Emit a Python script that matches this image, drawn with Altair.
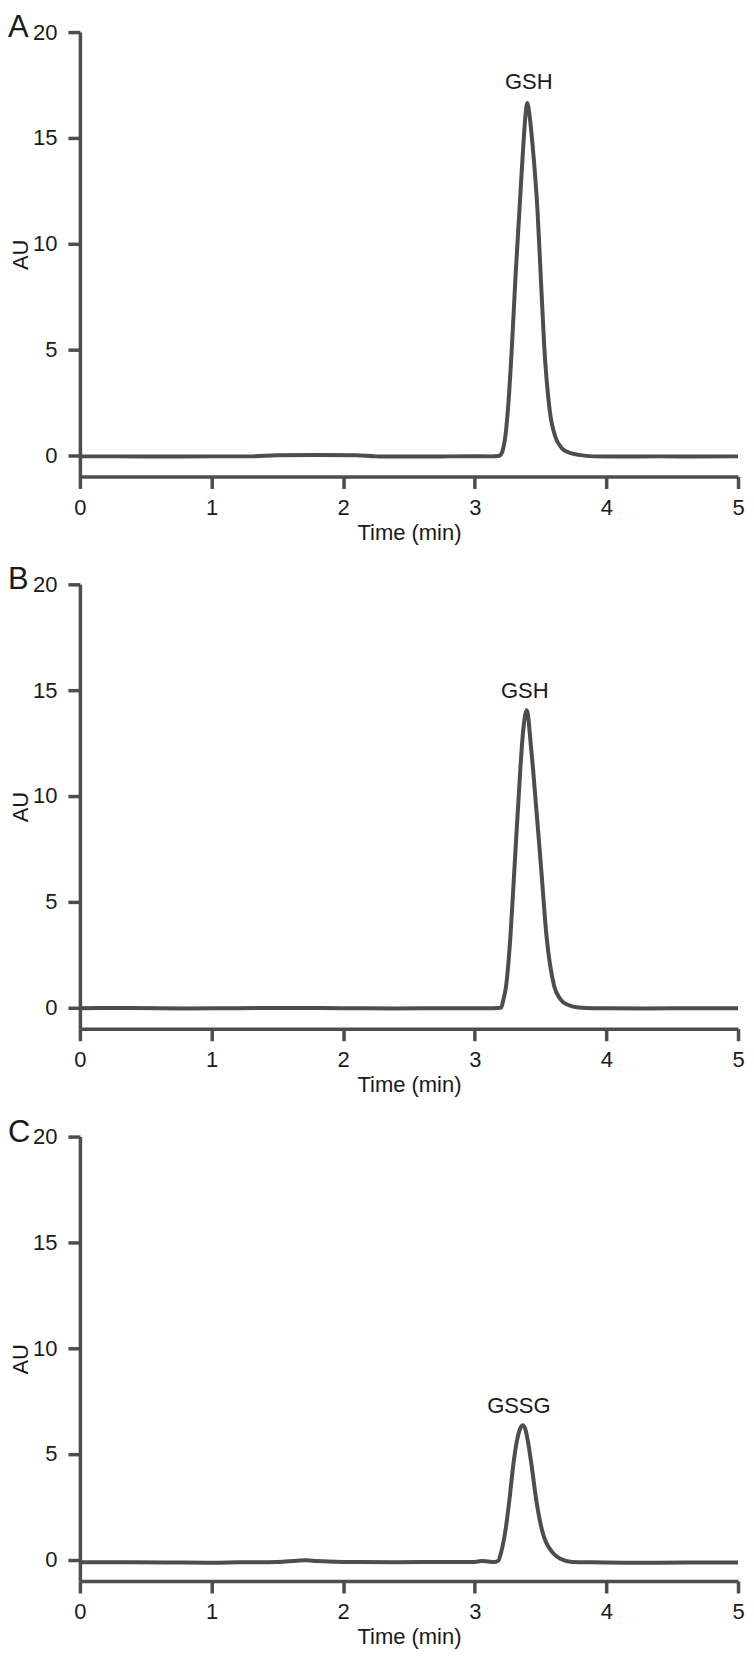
import altair as alt
import pandas as pd

# ---------------- data ----------------
# Panel A (GSH standard)
time_a = [0.0, 0.3, 0.6, 1.0, 1.3, 1.5, 1.8, 2.1, 2.25, 2.5, 2.8, 3.0, 3.12, 3.18,
          3.20, 3.215, 3.231, 3.251, 3.283, 3.309, 3.339, 3.369, 3.39, 3.40, 3.41,
          3.439, 3.477, 3.502, 3.527, 3.570, 3.615, 3.66, 3.72, 3.79, 3.9, 4.1, 4.4, 4.7, 5.0]
au_a = [-0.05, -0.05, -0.06, -0.05, -0.05, 0.0, 0.01, 0.0, -0.05, -0.06, -0.05, -0.04, -0.05, -0.03,
        0.05, 0.3, 0.83, 2.09, 5.23, 8.38, 11.53, 14.67, 16.35, 16.65, 16.35,
        14.67, 11.53, 8.38, 5.23, 2.09, 0.83, 0.35, 0.12, 0.02, -0.05, -0.06, -0.05, -0.06, -0.05]

# Panel B (GSH sample)
time_b = [0.0, 0.4, 0.8, 1.2, 1.6, 2.0, 2.4, 2.8, 3.1, 3.18,
          3.20, 3.215, 3.238, 3.271, 3.301, 3.346, 3.364, 3.384, 3.394, 3.404,
          3.42, 3.443, 3.505, 3.545, 3.603, 3.65, 3.71, 3.79, 3.9, 4.3, 4.7, 5.0]
au_b = [-0.03, -0.02, -0.04, -0.03, -0.02, -0.03, -0.04, -0.03, -0.03, -0.02,
        0.0, 0.3, 1.02, 3.38, 6.52, 11.25, 12.82, 13.85, 14.05, 13.85,
        12.82, 11.25, 6.52, 3.38, 1.02, 0.4, 0.12, 0.0, -0.03, -0.04, -0.03, -0.03]

# Panel C (GSSG)
time_c = [0.0, 0.4, 0.8, 1.0, 1.2, 1.5, 1.65, 1.72, 1.8, 2.0, 2.4, 2.8, 3.0, 3.05, 3.1, 3.15,
          3.178, 3.20, 3.231, 3.264, 3.292, 3.318, 3.345, 3.364, 3.383, 3.405, 3.432,
          3.466, 3.515, 3.59, 3.65, 3.74, 3.9, 4.2, 4.6, 5.0]
au_c = [-0.12, -0.12, -0.13, -0.14, -0.12, -0.10, -0.04, -0.02, -0.06, -0.10, -0.11, -0.10, -0.10, -0.06, -0.08, -0.10,
        -0.05, 0.35, 1.30, 2.87, 4.45, 5.55, 6.2, 6.36, 6.2, 5.55, 4.45,
        2.87, 1.30, 0.35, 0.05, -0.10, -0.12, -0.14, -0.13, -0.13]

panel_letters = ["A", "B", "C"]
peak_names = ["GSH", "GSH", "GSSG"]
label_times = [3.41, 3.38, 3.335]
label_au = [17.3, 14.63, 6.96]

x_ticks = [0, 1, 2, 3, 4, 5]
y_ticks = [0, 5, 10, 15, 20]

# ---------------- styling ----------------
FONT = "Liberation Sans"
LINE = "#4d4d4d"
TEXT = "#1a1a1a"


def panel(times, values, letter, name, lt, la):
    df = pd.DataFrame({"t": times, "au": values})
    x = alt.X("t:Q", scale=alt.Scale(domain=[0, 5], nice=False),
              axis=alt.Axis(values=x_ticks, format="d", title="Time (min)"))
    y = alt.Y("au:Q", scale=alt.Scale(domain=[-1, 20], nice=False),
              axis=alt.Axis(values=y_ticks, format="d", title="AU"))
    line = alt.Chart(df).mark_line(color=LINE, strokeWidth=4,
                                   interpolate="monotone").encode(x=x, y=y)
    lab = alt.Chart(pd.DataFrame({"t": [lt], "au": [la], "name": [name]})).mark_text(
        fontSize=22, font=FONT, color=TEXT, align="center", baseline="alphabetic"
    ).encode(x="t:Q", y="au:Q", text="name:N")
    let = alt.Chart(pd.DataFrame({"letter": [letter]})).mark_text(
        fontSize=31, font=FONT, color=TEXT, align="left", baseline="top"
    ).encode(x=alt.value(-72), y=alt.value(-19), text="letter:N")
    return alt.layer(line, lab, let).properties(width=659, height=445)


panels = [
    panel(time_a, au_a, panel_letters[0], peak_names[0], label_times[0], label_au[0]),
    panel(time_b, au_b, panel_letters[1], peak_names[1], label_times[1], label_au[1]),
    panel(time_c, au_c, panel_letters[2], peak_names[2], label_times[2], label_au[2]),
]

chart = (
    alt.vconcat(*panels, spacing=108, bounds="flush")
    .properties(padding={"left": 0, "top": 3, "right": 0, "bottom": 0})
    .configure_view(stroke=None)
    .configure_axis(
        grid=False,
        domainColor=LINE, domainWidth=3.5,
        tickColor=LINE, tickWidth=3.5, tickSize=12,
        labelFont=FONT, labelFontSize=22, labelColor=TEXT,
        titleFont=FONT, titleFontSize=22, titleFontWeight="normal", titleColor=TEXT,
    )
    .configure_axisX(labelPadding=9, titlePadding=4, labelFlush=False)
    .configure_axisY(labelPadding=11, titlePadding=0)
)

chart.save("out.html", embed_options={"renderer": "svg", "actions": False})
